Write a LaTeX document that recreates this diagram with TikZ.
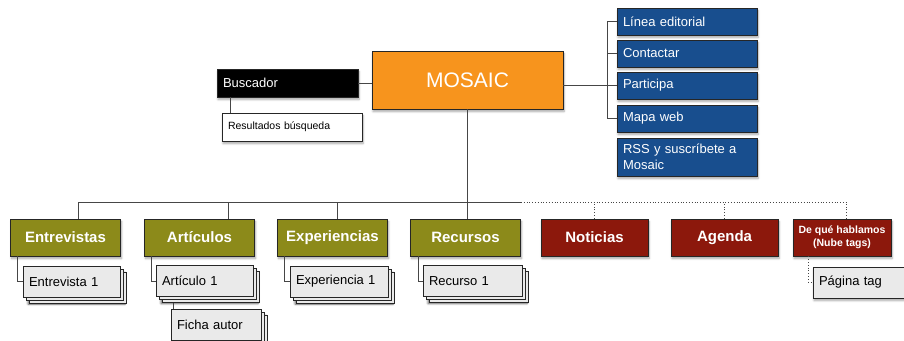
\documentclass[tikz,border=0pt]{standalone}
\usepackage{fontspec}
\setmainfont{Liberation Sans}
\usetikzlibrary{shadows,shadows.blur}

\definecolor{mosaicorange}{RGB}{247,148,29}
\definecolor{navblue}{RGB}{24,78,142}
\definecolor{sectgreen}{RGB}{140,138,26}
\definecolor{sectred}{RGB}{140,24,12}
\definecolor{pagegray}{RGB}{234,234,234}
\definecolor{linegray}{RGB}{70,70,70}

\tikzset{
  box/.style={draw=black!85, line width=0.8pt, inner sep=0pt,
    blur shadow={shadow xshift=1pt, shadow yshift=-2.5pt, shadow blur steps=6, shadow opacity=35}},
  mainbox/.style={box, fill=mosaicorange, text=white, minimum width=191pt, minimum height=58pt,
    font=\fontsize{21}{25}\selectfont},
  leftbox/.style={box, inner xsep=6pt, align=left, font=\fontsize{13}{15.5}\selectfont},
  searchbox/.style={leftbox, fill=black, text=white, minimum height=28pt, text width=129pt},
  resultbox/.style={leftbox, fill=white, minimum height=28pt, text width=128pt,
    font=\fontsize{10.5}{12}\selectfont},
  navbox/.style={leftbox, fill=navblue, text=white, minimum height=27pt, text width=128pt},
  sectbox/.style={box, text=white, minimum height=37pt, align=center,
    font=\bfseries\fontsize{15}{18}\selectfont},
  greenbox/.style={sectbox, fill=sectgreen, minimum width=110pt},
  redbox/.style={sectbox, fill=sectred, minimum width=107pt},
  pagebox/.style={leftbox, fill=pagegray, minimum height=31pt,
    blur shadow={shadow xshift=5pt, shadow yshift=-7pt, shadow blur steps=6, shadow opacity=35},
    double copy shadow={shadow xshift=3pt, shadow yshift=-3pt}},
  singlepage/.style={leftbox, fill=pagegray, minimum height=31pt},
  link/.style={draw=linegray, line width=0.8pt},
  dlink/.style={link, dotted}
}

\begin{document}
\begin{tikzpicture}[x=1pt,y=-1pt]
\useasboundingbox (0,0) rectangle (904,340);

% home and search
\node[mainbox] (mosaic) at (467.5,80) {MOSAIC};
\node[searchbox] (buscador) at (287.5,83) {Buscador};
\node[resultbox] (resultados) at (292,127) {Resultados búsqueda};

% static pages
\node[navbox] (linea) at (687,21.5) {Línea editorial};
\node[navbox] (contactar) at (687,53.5) {Contactar};
\node[navbox] (participa) at (687,85.5) {Participa};
\node[navbox] (mapa) at (687,118.5) {Mapa web};
\node[navbox, minimum height=38pt] (rss) at (687,157) {RSS y suscríbete a\\Mosaic};

% sections
\node[greenbox] (entrevistas) at (65.5,237.5) {Entrevistas};
\node[greenbox] (articulos) at (199.5,237.5) {Artículos};
\node[greenbox] (experiencias) at (332.5,237.5) {Experiencias};
\node[greenbox] (recursos) at (465.5,237.5) {Recursos};
\node[redbox] (noticias) at (594.5,237.5) {Noticias};
\node[redbox] (agenda) at (724.5,237.5) {Agenda};
\node[redbox, minimum width=98pt, font=\bfseries\fontsize{10.5}{13}\selectfont] (deque) at (842,237.5) {De qué hablamos\\(Nube tags)};

% content pages
\node[pagebox, text width=85pt] (entrevista1) at (71.5,281.5) {Entrevista 1};
\node[pagebox, text width=85pt] (articulo1) at (204.5,281) {Artículo 1};
\node[pagebox, text width=78pt] (ficha) at (216,324.5) {Ficha autor};
\node[pagebox, text width=86pt] (experiencia1) at (339,281.5) {Experiencia 1};
\node[pagebox, text width=87pt] (recurso1) at (472.5,281) {Recurso 1};
\node[singlepage, text width=85pt] (pagina) at (861.5,282.5) {Página tag};

% links around the home box
\draw[link] (buscador.east) -- (buscador.east -| mosaic.west);
\coordinate (srch) at ([xshift=14pt]buscador.south west);
\draw[link] (srch) -- (srch |- resultados.north);

\coordinate (brk) at (607,0);
\draw[link] (mosaic.east |- participa.west) -- (participa.west);
\draw[link] (linea.west) -- (linea.west -| brk) -- (mapa.west -| brk) -- (mapa.west);
\draw[link] (contactar.west -| brk) -- (contactar.west);

% bus to the sections
\coordinate (bus) at (0,202);
\coordinate (tapE) at ([xshift=12.5pt]entrevistas.north);
\coordinate (tapA) at ([xshift=28.5pt]articulos.north);
\coordinate (tapX) at ([xshift=4.5pt]experiencias.north);
\coordinate (tapD) at ([xshift=4pt]deque.north);
\draw[link] (mosaic.south) -- (mosaic.south |- recursos.north);
\draw[link] (tapE |- bus) -- (recursos.north east |- bus);
\draw[dlink] (recursos.north east |- bus) -- (tapD |- bus);
\foreach \t in {tapE,tapA,tapX}
  \draw[link] (\t) -- (\t |- bus);
\draw[dlink] (noticias.north) -- (noticias.north |- bus);
\draw[dlink] (agenda.north) -- (agenda.north |- bus);
\draw[dlink] (tapD) -- (tapD |- bus);

% links to the pages
\draw[link] ([xshift=7pt]entrevistas.south west) |- (entrevista1.west);
\draw[link] ([xshift=7pt]articulos.south west) |- (articulo1.west);
\draw[link] ([xshift=7pt]experiencias.south west) |- (experiencia1.west);
\draw[link] ([xshift=8pt]recursos.south west) |- (recurso1.west);
\coordinate (fch) at ([xshift=18pt,yshift=-6pt]articulo1.south west);
\draw[link] (fch) -- (fch |- ficha.north);
\draw[dlink] ([xshift=16pt]deque.south west) |- (pagina.west);
\end{tikzpicture}
\end{document}
